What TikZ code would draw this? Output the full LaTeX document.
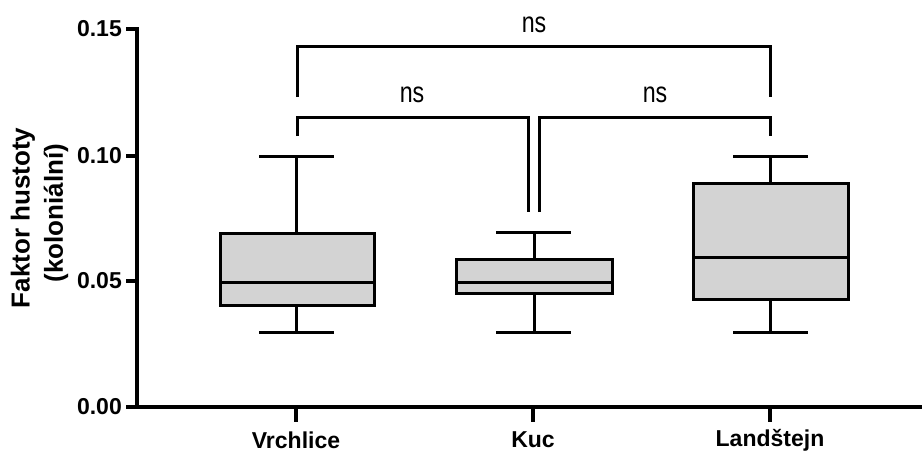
\documentclass[tikz,border=0pt]{standalone}
\usepackage{fontspec}
\setmainfont{Liberation Sans}
\definecolor{boxgray}{HTML}{D3D3D3}
\begin{document}
\begin{tikzpicture}[x=1pt,y=-1pt,
  axisline/.style={line width=4pt},
  plotline/.style={line width=3pt},
  boxstyle/.style={line width=3pt,fill=boxgray},
  ticklab/.style={anchor=east,inner sep=0pt,font=\fontsize{23}{23}\selectfont\bfseries},
  catlab/.style={anchor=center,inner sep=0pt,font=\fontsize{23}{23}\selectfont\bfseries},
  titlelab/.style={rotate=90,anchor=center,inner sep=0pt,font=\fontsize{26}{26}\selectfont\bfseries},
  nslab/.style={anchor=center,inner sep=0pt,font=\fontsize{29}{29}\selectfont,xscale=0.8}]
\useasboundingbox (0,0) rectangle (922,453);
% axes
\coordinate (origin) at (137,407);
\coordinate (ytop) at (137,29);
\coordinate (xend) at (922,407);
\draw[axisline,line cap=rect] (ytop) -- (origin) -- (xend);
% y ticks
\foreach \yy/\lab in {407/0.00,281/0.05,156/0.10,29/0.15}{
  \draw[axisline] (126,\yy) -- (137,\yy);
  \node[ticklab] (yl\lab) at (122,\yy) {\lab};
}
% x ticks
\foreach \xx in {296,533,770}{
  \draw[axisline] (\xx,407) -- (\xx,422);
}
\node[catlab] (c1) at (296,440) {Vrchlice};
\node[catlab] (c2) at (533,440) {Kuc};
\node[catlab] (c3) at (770,440) {Landštejn};
% axis title
\node[titlelab] (t1) at (23,218) {Faktor hustoty};
\node[titlelab] (t2) at (56,213) {(koloniální)};
% Vrchlice
\draw[plotline] (296,332) -- (296,156);
\draw[plotline] (259,156) -- (334,156);
\draw[plotline] (259,332) -- (334,332);
\draw[boxstyle] (220,233) rectangle (374,305);
\draw[plotline] (220,282) -- (374,282);
% Kuc
\draw[plotline] (534,332) -- (534,232);
\draw[plotline] (496,232) -- (571,232);
\draw[plotline] (496,332) -- (571,332);
\draw[boxstyle] (456,259) rectangle (612,293);
\draw[plotline] (456,282) -- (612,282);
% Landstejn
\draw[plotline] (770,332) -- (770,156);
\draw[plotline] (733,156) -- (808,156);
\draw[plotline] (733,332) -- (808,332);
\draw[boxstyle] (693,183) rectangle (848,299);
\draw[plotline] (693,257) -- (848,257);
% brackets
\draw[plotline] (297,97) -- (297,46) -- (770,46) -- (770,97);
\draw[plotline] (297,136) -- (297,117) -- (528,117) -- (528,212);
\draw[plotline] (539,212) -- (539,117) -- (770,117) -- (770,136);
\node[nslab] (ns1) at (534,25) {ns};
\node[nslab] (ns2) at (412,95) {ns};
\node[nslab] (ns3) at (655,95) {ns};
\end{tikzpicture}
\end{document}
